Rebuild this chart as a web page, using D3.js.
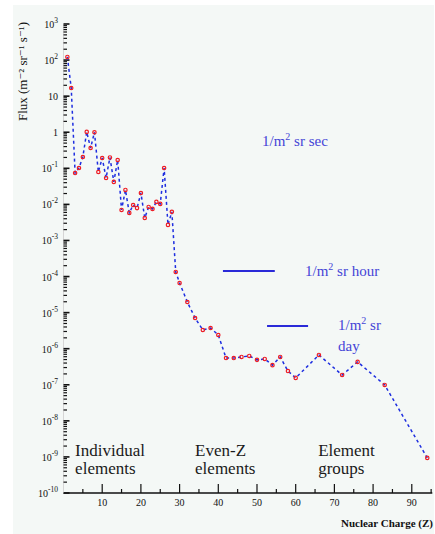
<!DOCTYPE html>
<html>
<head>
<meta charset="utf-8">
<script src="https://cdn.jsdelivr.net/npm/d3@7"></script>
<style>
  html, body { margin: 0; padding: 0; background: #fff; }
  svg { display: block; }
</style>
</head>
<body>
<svg id="chart" width="435" height="534"></svg>
<script>
// Cosmic-ray nuclei: flux versus nuclear charge Z

// Individual elements, Z = 1 .. 30
const individualZ = [1, 2, 3, 4, 5, 6, 7, 8, 9, 10, 11, 12, 13, 14, 15,
                     16, 17, 18, 19, 20, 21, 22, 23, 24, 25, 26, 27, 28, 29, 30];
const individualFlux = [122, 16.8, 0.074, 0.102, 0.206, 1.02, 0.366, 1.0, 0.079, 0.193,
                        0.054, 0.20, 0.042, 0.170, 0.0070, 0.0251, 0.0058, 0.0096, 0.0079, 0.0207,
                        0.0042, 0.0085, 0.0075, 0.0117, 0.0103, 0.102, 0.0027, 0.0062, 1.34e-4, 6.6e-5];

// Even-Z elements, Z = 32 .. 60
const evenZ = [32, 34, 36, 38, 40, 42, 44, 46, 48, 50, 52, 54, 56, 58, 60];
const evenFlux = [1.97e-5, 7.1e-6, 3.3e-6, 3.75e-6, 2.4e-6, 5.5e-7, 5.5e-7, 5.9e-7,
                  6.3e-7, 4.9e-7, 5.2e-7, 3.5e-7, 5.9e-7, 2.4e-7, 1.55e-7];

// Element groups (centre charge of each group)
const groupZ = [66, 72, 76, 83, 94];
const groupFlux = [6.7e-7, 1.87e-7, 4.3e-7, 9.9e-8, 9.4e-10];

// Flux levels of one particle per m² sr per second / hour / day
const rateLabels = ["sec", "hour", "day"];
const rateFlux = [0.57, 1.43e-4, 4.27e-6];

// Axis ticks
const xTickValues = [10, 20, 30, 40, 50, 60, 70, 80, 90];
const yTickExponents = [3, 2, 1, 0, -1, -2, -3, -4, -5, -6, -7, -8, -9, -10];

const svg = d3.select("#chart");
const serif = "'Liberation Serif', 'DejaVu Serif', serif";

// light canvas
svg.append("rect").attr("x", 13).attr("y", 5).attr("width", 421).attr("height", 529)
  .attr("fill", "#f4f8f6");

const x = d3.scaleLinear().domain([0, 95.3]).range([63.5, 432.3]);
const y = d3.scaleLog().domain([1e-10, 1e3]).range([493, 24]);

// ---- x axis ----
const xAxisY = 493;
svg.append("line").attr("x1", x(0)).attr("x2", x(95.3))
  .attr("y1", xAxisY).attr("y2", xAxisY)
  .attr("stroke", "#111").attr("stroke-width", 1.6);

const minorX = d3.range(5, 95.3, 5).filter(v => v % 10 !== 0);
svg.append("g").selectAll("line").data(minorX).join("line")
  .attr("x1", d => x(d)).attr("x2", d => x(d))
  .attr("y1", xAxisY).attr("y2", xAxisY - 4)
  .attr("stroke", "#111").attr("stroke-width", 1.2);
svg.append("g").selectAll("line").data(xTickValues).join("line")
  .attr("x1", d => x(d)).attr("x2", d => x(d))
  .attr("y1", xAxisY).attr("y2", xAxisY - 9)
  .attr("stroke", "#111").attr("stroke-width", 1.2);
svg.append("g").selectAll("text").data(xTickValues).join("text")
  .attr("x", d => x(d)).attr("y", xAxisY + 13)
  .attr("text-anchor", "middle")
  .attr("font-family", serif).attr("font-size", 10).attr("fill", "#111")
  .text(d => d);

svg.append("text")
  .attr("x", 433).attr("y", 527).attr("text-anchor", "end")
  .attr("font-family", serif).attr("font-size", 11).attr("font-weight", "bold")
  .attr("fill", "#111")
  .text("Nuclear Charge (Z)");

// ---- y axis (log) ----
const yAxisX = 63.5;
svg.append("line").attr("x1", yAxisX).attr("x2", yAxisX)
  .attr("y1", y(1e3)).attr("y2", y(1e-10))
  .attr("stroke", "#d6d6d6").attr("stroke-width", 1);

const minorY = [];
yTickExponents.slice(1).forEach(e => {
  for (let m = 2; m <= 9; m++) minorY.push(m * Math.pow(10, e));
});
svg.append("g").selectAll("line").data(minorY).join("line")
  .attr("x1", yAxisX).attr("x2", yAxisX + 3.5)
  .attr("y1", d => y(d)).attr("y2", d => y(d))
  .attr("stroke", "#111").attr("stroke-width", 1.2);
svg.append("g").selectAll("line").data(yTickExponents).join("line")
  .attr("x1", yAxisX).attr("x2", yAxisX + 6)
  .attr("y1", d => y(Math.pow(10, d))).attr("y2", d => y(Math.pow(10, d)))
  .attr("stroke", "#111").attr("stroke-width", 1.6);

const yLabels = svg.append("g").selectAll("text").data(yTickExponents).join("text")
  .attr("x", 58).attr("y", d => y(Math.pow(10, d)) + 4)
  .attr("text-anchor", "end")
  .attr("font-family", serif).attr("font-size", 10).attr("fill", "#111");
yLabels.each(function (d) {
  const t = d3.select(this);
  if (d === 0) { t.text("1"); return; }
  if (d === 1) { t.text("10"); return; }
  t.append("tspan").text("10");
  t.append("tspan").attr("dy", -5).attr("font-size", 7.5).text(d);
});

svg.append("text")
  .attr("transform", "translate(27,22) rotate(-90)")
  .attr("text-anchor", "end")
  .attr("font-family", serif).attr("font-size", 13).attr("fill", "#111")
  .text("Flux (m⁻² sr⁻¹ s⁻¹)");

// ---- data ----
const points = []
  .concat(individualZ.map((z, i) => ({ z, f: individualFlux[i] })))
  .concat(evenZ.map((z, i) => ({ z, f: evenFlux[i] })))
  .concat(groupZ.map((z, i) => ({ z, f: groupFlux[i] })));

const line = d3.line().x(d => x(d.z)).y(d => y(d.f));
svg.append("path").datum(points)
  .attr("d", line)
  .attr("fill", "none")
  .attr("stroke", "#1e2ee0").attr("stroke-width", 1.5)
  .attr("stroke-dasharray", "3,3");

svg.append("g").selectAll("circle").data(points).join("circle")
  .attr("cx", d => x(d.z)).attr("cy", d => y(d.f)).attr("r", 1.7)
  .attr("fill", "none").attr("stroke", "#ee1c24").attr("stroke-width", 1.2);

// ---- rate levels ----
const rateColor = "#4444d6";
function rateText(sel, xPos, yPos, unit) {
  const t = sel.append("text").attr("x", xPos).attr("y", yPos)
    .attr("font-family", serif).attr("font-size", 15).attr("fill", rateColor);
  t.append("tspan").text("1/m");
  t.append("tspan").attr("dy", -6).attr("font-size", 10).text("2");
  t.append("tspan").attr("dy", 6).text(" sr" + (unit ? " " + unit : ""));
  return t;
}
// per second (label only)
rateText(svg, 262, y(rateFlux[0]) + 5, rateLabels[0]);
// per hour
svg.append("line").attr("x1", x(41.2)).attr("x2", x(54.6))
  .attr("y1", y(rateFlux[1])).attr("y2", y(rateFlux[1]))
  .attr("stroke", "#2a2ad8").attr("stroke-width", 2);
rateText(svg, 305, y(rateFlux[1]) + 5, rateLabels[1]);
// per day
svg.append("line").attr("x1", x(52.6)).attr("x2", x(63.2))
  .attr("y1", y(rateFlux[2])).attr("y2", y(rateFlux[2]))
  .attr("stroke", "#2a2ad8").attr("stroke-width", 2);
rateText(svg, 338, y(rateFlux[2]) + 4, "");
svg.append("text").attr("x", 338).attr("y", y(rateFlux[2]) + 25)
  .attr("font-family", serif).attr("font-size", 15).attr("fill", rateColor)
  .text(rateLabels[2]);

// ---- region captions ----
const captions = [
  { z: 3.0, lines: ["Individual", "elements"] },
  { z: 34.0, lines: ["Even-Z", "elements"] },
  { z: 65.8, lines: ["Element", "groups"] }
];
captions.forEach(c => {
  c.lines.forEach((s, i) => {
    svg.append("text").attr("x", x(c.z)).attr("y", 456 + i * 18)
      .attr("font-family", serif).attr("font-size", 17).attr("fill", "#1a1a1a")
      .text(s);
  });
});
</script>
</body>
</html>
